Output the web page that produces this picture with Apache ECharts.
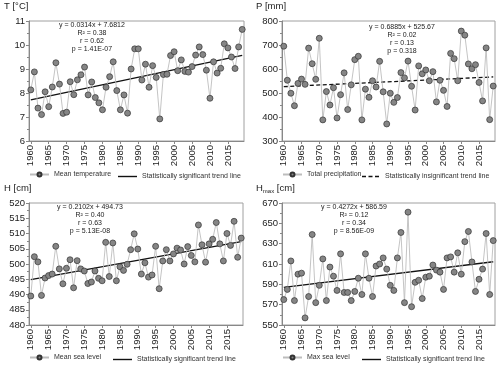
<!DOCTYPE html>
<html><head><meta charset="utf-8">
<script src="https://cdn.jsdelivr.net/npm/echarts@6/dist/echarts.min.js"></script>
<style>html,body{margin:0;padding:0;background:#fff}#c{width:500px;height:366px}</style>
</head><body><div id="c"></div>
<script>
// ---- data ----
const years = [];
for (let y = 1960; y <= 2019; y++) years.push(String(y));

const temperature = [8.13, 8.88, 7.37, 7.10, 8.05, 7.43, 8.25, 9.26, 8.37, 7.15,
  7.20, 8.47, 7.93, 8.55, 8.76, 9.08, 7.92, 8.46, 7.81, 7.59,
  7.30, 8.24, 8.68, 9.30, 8.10, 7.30, 7.92, 7.16, 9.00, 9.84,
  9.84, 8.54, 9.20, 8.24, 9.14, 8.65, 6.92, 8.77, 8.78, 9.56,
  9.72, 8.93, 9.38, 8.90, 8.87, 9.10, 9.58, 9.92, 9.60, 8.95,
  7.78, 9.30, 8.83, 9.03, 10.05, 9.88, 9.50, 9.02, 9.92, 10.65];

const precipitation = [695, 553, 499, 447, 540, 558, 536, 687, 622, 557,
  728, 388, 506, 450, 522, 396, 493, 584, 431, 534,
  639, 653, 388, 516, 482, 551, 525, 632, 505, 371,
  499, 461, 481, 585, 563, 633, 528, 429, 613, 580,
  596, 551, 589, 463, 553, 511, 444, 665, 643, 551,
  758, 741, 621, 601, 618, 544, 467, 688, 389, 529];

const seaLevel = [489.5, 502.4, 500.7, 489.7, 495.4, 496.2, 496.7, 505.8, 498.4, 493.5,
  498.6, 501.4, 492.2, 501.1, 498.4, 497.7, 493.6, 494.1, 497.7, 495.3,
  494.5, 507.1, 495.9, 506.9, 494.5, 499.1, 497.9, 499.9, 504.7, 509.9,
  504.9, 496.7, 500.4, 495.7, 496.4, 505.8, 491.9, 501.0, 504.7, 501.0,
  503.3, 505.2, 504.6, 500.0, 505.7, 502.8, 500.7, 512.8, 506.3, 500.6,
  506.6, 508.1, 513.6, 506.6, 501.0, 510.0, 506.1, 514.0, 502.2, 508.5];

const maxSeaLevel = [575, 585, 613, 574, 600, 601, 557, 578, 639, 572,
  589, 615, 574, 607, 598, 584, 620, 582, 582, 574,
  583, 596, 580, 620, 596, 578, 608, 610, 616, 605,
  589, 584, 616, 641, 572, 661, 568, 592, 594, 576,
  597, 598, 609, 604, 602, 585, 616, 617, 602, 621,
  600, 632, 642, 612, 583, 595, 605, 640, 580, 633];

// trend line end values (1960, 2019)
const trendTemperature = [7.71, 9.57];
const trendPrecipitation = [526.4, 567.0];
const trendSeaLevel = [494.9, 507.3];
const trendMaxSeaLevel = [587.0, 612.2];

// y axis ticks: [min, max, interval]
const ticksT = [6, 11, 1];
const ticksP = [300, 800, 100];
const ticksH = [480, 520, 5];
const ticksHmax = [550, 670, 20];

const statsT = ['y = 0.0314x + 7.6812', 'R² = 0.38', 'r = 0.62', 'p = 1.41E-07'];
const statsP = ['y = 0.6885x + 525.67', 'R² = 0.02', 'r = 0.13', 'p = 0.318'];
const statsH = ['y = 0.2102x + 494.73', 'R² = 0.40', 'r = 0.63', 'p = 5.13E-08'];
const statsHmax = ['y = 0.4272x + 586.59', 'R² = 0.12', 'r = 0.34', 'p = 8.56E-09'];

const seriesNames = ['Mean temperature', 'Total precipitation', 'Mean sea level', 'Max sea level'];
const trendSig = 'Statistically significant trend line';
const trendInsig = 'Statistically insignificant trend line';

// ---- layout ----
const FONT = 'Liberation Sans, Arial, sans-serif';
const grids = [
  {left: 29, top: 21, width: 215, height: 120},
  {left: 282, top: 21, width: 213, height: 120},
  {left: 29, top: 203, width: 214, height: 122},
  {left: 282, top: 203, width: 213, height: 122}
];
const ticks = [ticksT, ticksP, ticksH, ticksHmax];
const dataSets = [temperature, precipitation, seaLevel, maxSeaLevel];
const trends = [trendTemperature, trendPrecipitation, trendSeaLevel, trendMaxSeaLevel];
const trendNames = [trendSig, trendInsig, trendSig, trendSig];
const stats = [statsT, statsP, statsH, statsHmax];
const statsPos = [[92, 22], [402, 24], [90, 204], [354, 204]];
const legendPos = [[29, 118, 171], [282, 362, 171], [29, 113, 354], [282, 362, 354]];

const ICON_SOLID = 'path://M0,0h19v1.4h-19z';
const ICON_DASH = 'path://M0,0h4v1.4h-4z M6.5,0h4v1.4h-4z M13,0h4v1.4h-4z';

const option = {
  animation: false,
  backgroundColor: '#fff',
  textStyle: {fontFamily: FONT},
  title: [
    {text: 'T [°C]', left: 4, top: 1},
    {text: 'P [mm]', left: 256, top: 1},
    {text: 'H [cm]', left: 4, top: 183},
    {text: 'H{sub|max} [cm]', left: 256, top: 183}
  ].map(t => Object.assign(t, {padding: 0, textStyle: {fontFamily: FONT, fontSize: 9.5, fontWeight: 'normal', color: '#222',
      rich: {sub: {fontFamily: FONT, fontSize: 6, verticalAlign: 'bottom', padding: [5, 0, 0, 0], color: '#222'}}}})),
  grid: grids.map(g => Object.assign({}, g, {show: true, borderColor: '#a0a0a0', borderWidth: 1, containLabel: false})),
  xAxis: grids.map((g, i) => ({
    type: 'category', gridIndex: i, data: years, boundaryGap: true,
    axisLine: {lineStyle: {color: '#888', width: 1}},
    axisTick: {show: true, alignWithLabel: true, interval: 4, length: 3, lineStyle: {color: '#888'}},
    axisLabel: {interval: 4, rotate: 90, fontSize: 9.5, color: '#222', fontFamily: FONT, margin: 4}
  })),
  yAxis: grids.map((g, i) => ({
    type: 'value', gridIndex: i, min: ticks[i][0], max: ticks[i][1], interval: ticks[i][2],
    axisLine: {show: true, lineStyle: {color: '#888', width: 1}},
    axisTick: {show: true, length: 3, lineStyle: {color: '#888'}},
    minorTick: {show: true, splitNumber: 2, length: 2, lineStyle: {color: '#888'}},
    splitLine: {show: false},
    axisLabel: {fontSize: 9.5, color: '#222', fontFamily: FONT, margin: 4}
  })),
  legend: [],
  series: [],
  graphic: []
};

for (let i = 0; i < 4; i++) {
  const tName = trendNames[i] + ' '.repeat(i);
  option.series.push({
    name: seriesNames[i], type: 'line', xAxisIndex: i, yAxisIndex: i, data: dataSets[i],
    symbol: 'circle', symbolSize: 6, showSymbol: true, showAllSymbol: true,
    lineStyle: {color: '#bdbdbd', width: 0.9},
    itemStyle: {color: '#858585', borderColor: '#333', borderWidth: 0.7},
    z: 3
  });
  option.series.push({
    name: tName, type: 'line', xAxisIndex: i, yAxisIndex: i,
    data: [[years[0], trends[i][0]], [years[years.length - 1], trends[i][1]]],
    symbol: 'none', showSymbol: false,
    lineStyle: {color: '#111', width: 1.3, type: i === 1 ? [4, 2.5] : 'solid'},
    itemStyle: {color: '#111'},
    z: 2
  });
  const lp = legendPos[i];
  option.legend.push({
    data: [{name: seriesNames[i]}], left: lp[0], top: lp[2], padding: 0,
    itemWidth: 19, itemHeight: 5, selectedMode: false,
    textStyle: {fontSize: 7, color: '#333', fontFamily: FONT}
  });
  option.legend.push({
    data: [{name: tName, icon: i === 1 ? ICON_DASH : ICON_SOLID, itemStyle: {color: '#111', borderWidth: 0}}],
    left: lp[1], top: lp[2] + 2, padding: 0,
    itemWidth: 19, itemHeight: 1.4, selectedMode: false,
    textStyle: {fontSize: 7, color: '#333', fontFamily: FONT}
  });
  stats[i].forEach((s, k) => {
    option.graphic.push({
      type: 'text', x: statsPos[i][0], y: statsPos[i][1] + k * 8,
      style: {text: s, fontSize: 7, fontFamily: FONT, fill: '#222', align: 'center', verticalAlign: 'top'},
      z: 10
    });
  });
}

const chart = echarts.init(document.getElementById('c'), null, {renderer: 'canvas'});
chart.setOption(option);
</script></body></html>
